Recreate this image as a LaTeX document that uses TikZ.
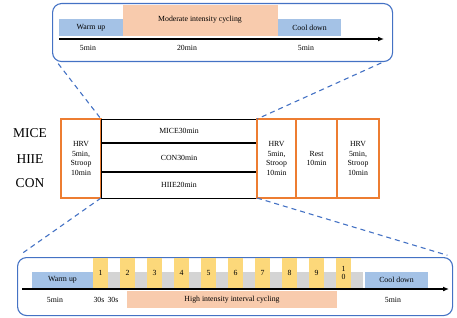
\documentclass[tikz,border=0pt]{standalone}
\usepackage{fontspec}
\setmainfont{Liberation Serif}
\usepackage{xcolor}
\usetikzlibrary{arrows.meta}
\definecolor{frameblue}{HTML}{4472C4}
\definecolor{phaseblue}{HTML}{A4C2E6}
\definecolor{cyclepink}{HTML}{F8CBAD}
\definecolor{sprintyellow}{HTML}{FCD87A}
\definecolor{restgrey}{HTML}{D4D4D4}
\definecolor{testorange}{HTML}{ED7D31}

\begin{document}
\begin{tikzpicture}[x=1pt, y=-1pt, font=\fontsize{7.8}{9.7}\selectfont,
  frame/.style={draw=frameblue, line width=1.1pt, rounded corners=9pt, anchor=north west, inner sep=0pt},
  box/.style={anchor=north west, inner sep=0pt, outer sep=0pt, align=center},
  phase/.style={box, fill=phaseblue},
  cycling/.style={box, fill=cyclepink},
  sprint/.style={box, fill=sprintyellow, minimum width=15, minimum height=30},
  recover/.style={box, fill=restgrey, minimum width=12, minimum height=16},
  test/.style={box, draw=testorange, line width=1.2pt, minimum height=79},
  zoomline/.style={draw=frameblue, line width=1.1pt, dash pattern=on 5pt off 4pt},
  timeline/.style={-{Latex[length=6pt,width=5pt]}, line width=1.6pt},
  group/.style={font=\fontsize{13.5}{15}\selectfont}]
  \useasboundingbox (0,0) rectangle (457,318);

  % MICE protocol
  \node[frame, minimum width=340, minimum height=58] (topframe) at (52,3) {};
  \node[phase, minimum width=64, minimum height=17] (topwarm) at (59,19) {Warm up};
  \node[cycling, minimum width=155, minimum height=31, anchor=north west] (moderate) at (123,5) {};
  \node (modtext) at (200,20) {Moderate intensity cycling};
  \node[phase, minimum width=63, minimum height=17] (topcool) at (278,19) {Cool down};
  \coordinate (topstart) at (59,39); \coordinate (topend) at (384,39);
  \draw[timeline] (topstart) -- (topend);
  \node (topt1) at (88,48) {5min}; \node (topt2) at (187,48) {20min}; \node (topt3) at (306,48) {5min};

  % session
  \node[group] (lmice) at (30,133) {MICE};
  \node[group] (lhiie) at (30,159) {HIIE};
  \node[group] (lcon) at (30,183) {CON};
  \node[test, minimum width=40] (pre) at (61,119) {HRV\\5min,\\Stroop\\10min};
  \node[box, draw, line width=1pt, minimum width=156, minimum height=79] (main) at (101,119) {};
  \node (rmice) at (179,131) {MICE30min};
  \node (rcon) at (179,157.5) {CON30min};
  \node (rhiie) at (179,185) {HIIE20min};
  \draw[line width=1.6pt] (main.west |- 0,143) -- (main.east |- 0,143);
  \draw[line width=2.4pt] (main.west |- 0,172) -- (main.east |- 0,172);
  \node[test, minimum width=39] (post) at (257,119) {HRV\\5min,\\Stroop\\10min};
  \node[test, minimum width=41] (rest) at (296,119) {Rest\\10min};
  \node[test, minimum width=42] (late) at (337,119) {HRV\\5min,\\Stroop\\10min};

  % HIIE protocol
  \node[frame, minimum width=435, minimum height=58] (botframe) at (17,257) {};
  \node[phase, minimum width=61, minimum height=16] (botwarm) at (32,272) {Warm up};
  \foreach \i in {1,...,9}
    \node[sprint] (s\i) at ({93+27*(\i-1)},258) {\i};
  \node[sprint, font=\fontsize{7.8}{8.5}\selectfont] (s10) at (336,258) {1\\0};
  \foreach \i in {1,...,10}
    \node[recover] (r\i) at ({108+27*(\i-1)},272) {};
  \node[phase, minimum width=63, minimum height=16] (botcool) at (365,272) {Cool down};
  \coordinate (botstart) at (22,289); \coordinate (botend) at (449,289);
  \draw[timeline] (botstart) -- (botend);
  \node[cycling, minimum width=210, minimum height=17] (high) at (127,291) {High intensity interval cycling};
  \node (bott1) at (55,300) {5min}; \node (bott2) at (99,300) {30s}; \node (bott3) at (113,300) {30s};
  \node (bott4) at (393,300) {5min};

  % zoom lines
  \draw[zoomline, shorten <=2pt] ([xshift=5pt]topframe.south west) -- (main.north west);
  \draw[zoomline, shorten <=2pt] ([xshift=-10pt]topframe.south east) -- (main.north east);
  \draw[zoomline, shorten >=6pt] (main.south west) -- (botframe.north west);
  \draw[zoomline, shorten >=6pt] (main.south east) -- (botframe.north east);
\end{tikzpicture}
\end{document}
